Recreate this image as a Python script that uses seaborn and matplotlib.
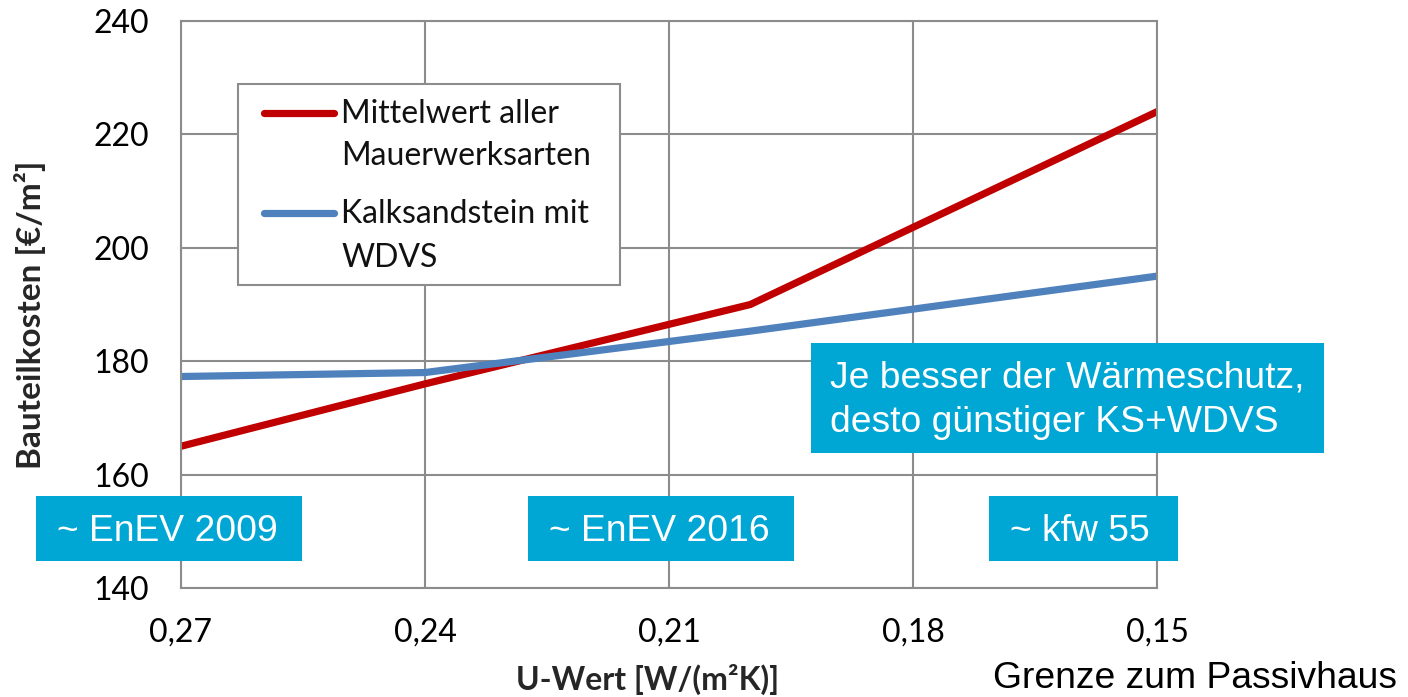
import matplotlib
matplotlib.use("Agg")
import matplotlib.pyplot as plt
from matplotlib.patches import Rectangle
from matplotlib.lines import Line2D
import seaborn as sns
import pandas as pd

# ---- data ----
u_values = [0.27, 0.24, 0.20, 0.15]
mittelwert = [165, 176, 190, 224]
kalksandstein = [177.3, 178, 185.3, 195]
series_names = ["Mittelwert aller\nMauerwerksarten", "Kalksandstein mit\nWDVS"]
x_ticks = [0.27, 0.24, 0.21, 0.18, 0.15]
x_tick_labels = ["0,27", "0,24", "0,21", "0,18", "0,15"]
y_ticks = [140, 160, 180, 200, 220, 240]
box_labels = ["~ EnEV 2009", "~ EnEV 2016", "~ kfw 55"]
note_lines = ["Je besser der Wärmeschutz,", "desto günstiger KS+WDVS"]
footer_text = "Grenze zum Passivhaus"
y_label = "Bauteilkosten [€/m²]"
x_label = "U-Wert [W/(m²K)]"

# ---- style ----
sns.set_theme(style="white")
plt.rcParams['font.family'] = ['Lato', 'DejaVu Sans']

RED = "#C00000"
BLUE = "#4F81BD"
GRID = "#8C8C8C"
CYAN = "#00A6D4"
colors = [RED, BLUE]

df = pd.DataFrame({
    "U": u_values * 2,
    "Kosten": mittelwert + kalksandstein,
    "Serie": [series_names[0]] * len(u_values) + [series_names[1]] * len(u_values),
})

W, H = 1408, 697
fig = plt.figure(figsize=(W / 100, H / 100), dpi=100)
fig.patch.set_facecolor("white")


def fx(px):
    return px / W


def fy(py):
    return 1 - py / H


ax = fig.add_axes([fx(181), fy(588), fx(1157) - fx(181), fy(21) - fy(588)])
sns.lineplot(data=df, x="U", y="Kosten", hue="Serie",
             palette=colors, linewidth=5.2, ax=ax, legend=False,
             solid_capstyle="round", solid_joinstyle="round")

ax.set_xlim(0.27, 0.15)
ax.set_ylim(140, 240)
ax.set_xticks(x_ticks)
ax.set_xticklabels(x_tick_labels)
ax.set_yticks(y_ticks)
ax.set_xlabel("")
ax.set_ylabel("")
ax.grid(True, color=GRID, linewidth=1.5)
ax.set_axisbelow(True)
for sp in ax.spines.values():
    sp.set_color(GRID)
    sp.set_linewidth(1.5)
ax.tick_params(axis="y", length=0, pad=23, labelsize=23, colors="black")
ax.tick_params(axis="x", length=7, width=1.5, color=GRID, pad=14,
               labelsize=23, labelcolor="black", direction="out")

# ---- legend (drawn as a framed box with line samples and text) ----
frame = Rectangle((fx(238), fy(285)), fx(620) - fx(238), fy(84) - fy(285),
                  transform=fig.transFigure, facecolor="white", edgecolor=GRID,
                  linewidth=1.5, zorder=8)
fig.add_artist(frame)
entry_lines = [(113, [123, 165]), (213, [223, 267])]
for name, col, (hy, baselines) in zip(series_names, colors, entry_lines):
    fig.add_artist(Line2D([fx(264), fx(334)], [fy(hy), fy(hy)], color=col,
                          lw=5.2, solid_capstyle="round",
                          transform=fig.transFigure, zorder=9))
    for part, by in zip(name.split("\n"), baselines):
        fig.text(fx(341), fy(by), part, ha="left", va="baseline",
                 fontsize=23, color="#111111", zorder=9)

# axis labels
fig.text(fx(30), fy(315), y_label, rotation=90, ha="center", va="center",
         fontsize=24, fontweight="bold")
fig.text(fx(648), fy(690), x_label, ha="center", va="baseline",
         fontsize=23, fontweight="bold")


# cyan boxes
def box(x0, y0, x1, y1):
    r = Rectangle((fx(x0), fy(y1)), fx(x1) - fx(x0), fy(y0) - fy(y1),
                  transform=fig.transFigure, facecolor=CYAN, edgecolor="none",
                  zorder=10)
    fig.add_artist(r)


ARIAL = ['Liberation Sans', 'DejaVu Sans']
box_geom = [(36, 496, 302, 561, 57), (528, 496, 794, 561, 549),
            (989, 496, 1178, 561, 1010)]
for lab, (x0, y0, x1, y1, tx) in zip(box_labels, box_geom):
    box(x0, y0, x1, y1)
    fig.text(fx(tx), fy(541), lab, ha="left", va="baseline", fontsize=26.8,
             color="white", family=ARIAL, zorder=11)

box(811, 343, 1324, 453)
for line, by in zip(note_lines, [388, 432]):
    fig.text(fx(830), fy(by), line, ha="left", va="baseline", fontsize=26.8,
             color="white", family=ARIAL, zorder=11)

fig.text(fx(993), fy(688), footer_text, ha="left", va="baseline",
         fontsize=26.8, color="black", family=ARIAL)

fig.savefig("out.png", dpi=100)
